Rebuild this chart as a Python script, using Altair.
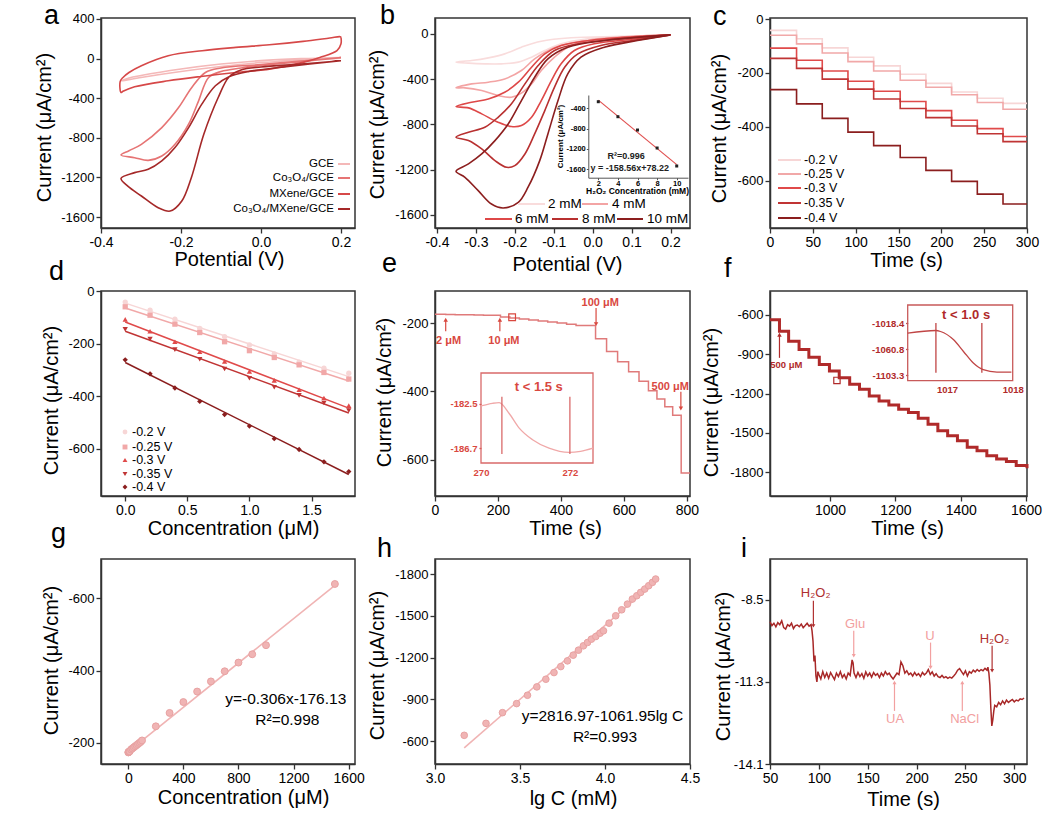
import altair as alt
import pandas as pd

FONT = "Liberation Sans, DejaVu Sans"
INK = "#333333"
CUR = "Current (μA/cm²)"

# ---------------- a: CV curves of the four electrodes ----------------
a_labels = ["GCE", "Co₃O₄/GCE", "MXene/GCE", "Co₃O₄/MXene/GCE"]
a_colors = ["#f4b8b8", "#e67474", "#d64848", "#a52828"]
a_gce_v = [0.2, 0.1, 0.0, -0.1, -0.2, -0.3, -0.35, -0.33, -0.3, -0.2, -0.1, 0.0, 0.1, 0.2]
a_gce_i = [5, -15, -40, -80, -130, -190, -225, -195, -170, -105, -55, -20, 0, 12]
a_co_v = [0.2, 0.1, 0.0, -0.05, -0.1, -0.131, -0.156, -0.181, -0.215, -0.248, -0.282, -0.316, -0.35,
          -0.33, -0.299, -0.248, -0.206, -0.173, -0.139, -0.1, 0.0, 0.1, 0.2]
a_co_i = [10, -30, -70, -95, -130, -190, -426, -662, -865, -983, -1027, -1000, -973,
          -930, -865, -696, -494, -291, -140, -95, -60, -25, 10]
a_mx_v = [0.2, 0.2, 0.19, 0.147, 0.105, 0.021, -0.063, -0.15, -0.232, -0.316, -0.345, -0.35,
          -0.352, -0.345, -0.33, -0.299, -0.232, -0.147, -0.063, 0.021, 0.105, 0.172, 0.198, 0.2]
a_mx_i = [215, 150, 80, 12, -38, -106, -140, -180, -224, -285, -330, -342,
          -230, -190, -140, -72, 29, 80, 113, 140, 174, 208, 221, 215]
a_comx_v = [0.2, 0.1, 0.0, -0.05, -0.08, -0.107, -0.143, -0.174, -0.198, -0.227, -0.257, -0.299, -0.333, -0.35,
            -0.316, -0.282, -0.248, -0.215, -0.181, -0.148, -0.114, -0.08, -0.03, 0.063, 0.2]
a_comx_i = [-21, -55, -85, -115, -185, -393, -764, -1200, -1438, -1539, -1505, -1387, -1287, -1209,
            -1151, -1118, -1033, -898, -696, -460, -274, -183, -130, -82, -21]

# ---------------- b: CV at different H2O2 levels ----------------
b_labels = ["2 mM", "4 mM", "6 mM", "8 mM", "10 mM"]
b_colors = ["#f9dcdc", "#f3a4a4", "#de4848", "#b83030", "#8c1e1e"]
b_2_v = [0.2, 0.072, -0.013, -0.081, -0.123, -0.157, -0.191, -0.234, -0.277, -0.319, -0.351,
         -0.311, -0.268, -0.226, -0.183, -0.132, -0.055, 0.072, 0.2]
b_2_i = [-9, -24, -44, -88, -147, -206, -250, -265, -265, -259, -250,
         -236, -212, -177, -118, -65, -35, -22, -9]
b_4_v = [0.2, 0.072, -0.013, -0.064, -0.098, -0.132, -0.157, -0.183, -0.209, -0.243, -0.285, -0.328, -0.351,
         -0.311, -0.268, -0.226, -0.183, -0.149, -0.106, -0.047, 0.072, 0.2]
b_4_i = [-9, -29, -59, -118, -206, -324, -442, -524, -560, -545, -501, -477, -477,
         -442, -427, -398, -324, -221, -133, -74, -29, -9]
b_6_v = [0.2, 0.115, 0.004, -0.047, -0.081, -0.106, -0.132, -0.157, -0.183, -0.209, -0.243, -0.285, -0.319, -0.351,
         -0.311, -0.268, -0.226, -0.191, -0.157, -0.123, -0.081, 0.004, 0.2]
b_6_i = [-9, -44, -88, -147, -265, -413, -589, -737, -810, -819, -781, -707, -654, -642,
         -604, -575, -516, -427, -295, -177, -103, -53, -9]
b_8_v = [0.2, 0.115, 0.021, -0.038, -0.072, -0.098, -0.123, -0.149, -0.174, -0.2, -0.221, -0.251, -0.285, -0.319, -0.351,
         -0.319, -0.277, -0.243, -0.209, -0.174, -0.14, -0.098, -0.03, 0.072, 0.2]
b_8_i = [-9, -53, -103, -177, -295, -471, -678, -884, -1061, -1164, -1179, -1120, -1017, -943, -913,
         -869, -825, -737, -619, -442, -280, -147, -83, -44, -9]
b_10_v = [0.2, 0.115, 0.03, -0.03, -0.064, -0.089, -0.115, -0.136, -0.166, -0.191, -0.23, -0.26, -0.294, -0.328, -0.351,
          -0.319, -0.285, -0.251, -0.217, -0.183, -0.149, -0.115, -0.064, 0.03, 0.2]
b_10_i = [-9, -59, -118, -206, -354, -589, -884, -1120, -1355, -1488, -1538, -1503, -1385, -1267, -1214,
          -1149, -1061, -943, -796, -589, -383, -221, -118, -59, -9]
# inset of b: peak current vs concentration
bi_conc = [2, 4, 6, 8, 10]
bi_cur = [-270, -565, -827, -1181, -1535]
bi_slope, bi_icpt = -158.56, 78.22

# ---------------- c / d: amperometric steps at five potentials ----------------
cd_labels = ["-0.2 V", "-0.25 V", "-0.3 V", "-0.35 V", "-0.4 V"]
cd_colors = ["#f7d6d6", "#f1a8a8", "#e04a4a", "#c03434", "#8b1e1e"]
cd_shapes = ["circle", "square", "triangle-up", "triangle-down", "diamond"]
d_conc = [0.0, 0.2, 0.4, 0.6, 0.8, 1.0, 1.2, 1.4, 1.6, 1.8]
d_m020 = [-42, -73, -107, -142, -174, -205, -239, -271, -294, -313]
d_m025 = [-60, -92, -126, -158, -193, -227, -253, -281, -310, -335]
d_m030 = [-108, -153, -193, -231, -268, -306, -340, -376, -407, -436]
d_m035 = [-146, -183, -223, -260, -297, -332, -366, -397, -426, -455]
d_m040 = [-262, -315, -369, -420, -470, -514, -562, -603, -650, -687]
c_step_t = [0, 31, 61, 91, 121, 152, 182, 212, 242, 272]
c_end_t = 300

# ---------------- e / g: low-concentration steps and calibration ----------------
g_conc = [0, 2, 4, 6, 8, 10, 20, 30, 40, 50, 60, 70, 80, 90, 100,
          200, 300, 400, 500, 600, 700, 800, 900, 1000, 1500]
g_cur = [-174, -174.6, -175.2, -175.8, -176.4, -177, -182, -185, -188, -191, -194, -197, -200, -203, -207,
         -246, -283, -313, -342, -370, -398, -422, -445, -470, -639]
e_step_t = [0, 34, 64, 94, 124, 154, 208, 238, 268, 298, 328, 358, 388, 418, 448,
            510, 545, 580, 615, 648, 678, 705, 730, 755, 782]
e_end_t = 810
g_slope, g_icpt = -0.306, -176.13
# inset of e: response time
ei_t = [270.0, 270.26, 270.41, 270.63, 270.86, 271.16, 271.53, 271.98, 272.24, 272.52]
ei_i = [-182.7, -182.46, -182.4, -183.4, -184.8, -185.9, -186.7, -187.1, -187.0, -186.7]
ei_marks = [270.47, 272.0]

# ---------------- f / h: high-concentration steps and log calibration ----------------
f_t = [816, 845, 873, 905, 935, 967, 998, 1028, 1060, 1090, 1120, 1150, 1180, 1210, 1240,
       1270, 1300, 1330, 1360, 1390, 1420, 1450, 1480, 1510, 1540, 1570, 1603]
f_i = [-638, -726, -802, -865, -923, -979, -1029, -1080, -1130, -1168, -1219, -1257, -1287, -1320, -1345,
       -1388, -1434, -1484, -1522, -1560, -1610, -1636, -1674, -1700, -1719, -1750, -1770]
fi_t = [1016.4, 1016.83, 1016.9, 1017.1, 1017.25, 1017.4, 1017.55, 1017.76, 1017.98]
fi_i = [-1034.7, -1030.4, -1032.0, -1045.6, -1064.7, -1083.7, -1094.6, -1098.4, -1098.4]
fi_marks = [1016.83, 1017.53]
h_lgc = [3.172, 3.30, 3.397, 3.48, 3.544, 3.599, 3.652, 3.70, 3.74, 3.779, 3.813, 3.844, 3.873, 3.897,
         3.92, 3.946, 3.971, 3.991, 4.024, 4.063, 4.098, 4.132, 4.161, 4.187, 4.21, 4.234, 4.257, 4.279, 4.298]
h_cur = [-641, -727, -804, -869, -929, -989, -1044, -1092, -1135, -1176, -1217, -1253, -1284, -1308,
         -1332, -1351, -1375, -1392, -1447, -1500, -1543, -1584, -1620, -1644, -1668, -1692, -1716, -1740, -1764]
h_icpt, h_slope = 2816.97, -1061.95

# ---------------- i: selectivity trace ----------------
i_t = [50, 52, 54, 56, 58, 60, 62, 64, 66, 68, 70, 72, 74, 76, 78, 80, 82, 84, 86, 88, 90, 92, 93, 94, 95, 96,
       97, 98, 99, 100, 102, 104, 106, 108, 110, 112, 114, 116, 118, 120, 122, 124, 126, 128, 130, 132, 134,
       135, 136, 138, 140, 142, 144, 146, 148, 150, 152, 154, 156, 158, 160, 162, 164, 166, 168, 170, 172, 174,
       176, 178, 180, 182, 184, 186, 188, 190, 192, 194, 196, 198, 200, 202, 204, 206, 208, 210, 212, 214, 216,
       218, 220, 222, 224, 226, 228, 230, 232, 234, 236, 238, 240, 242, 244, 246, 248, 250, 252, 254, 256, 258,
       260, 262, 264, 266, 268, 270, 272, 273, 274, 275, 276, 277, 278, 279, 280, 282, 284, 286, 288, 290, 292,
       294, 296, 298, 300, 302, 304, 306, 308, 310]
i_cur = [-9.25, -9.38, -9.30, -9.42, -9.28, -9.35, -9.22, -9.45, -9.50, -9.35, -9.40, -9.30, -9.48, -9.38, -9.36,
         -9.42, -9.33, -9.45, -9.38, -9.30, -9.40, -9.35, -9.55, -9.90, -10.60, -10.40, -11.10, -11.30, -10.95,
         -11.05, -11.20, -10.95, -11.15, -11.00, -11.18, -10.98, -11.10, -11.22, -11.00, -11.12, -10.95, -11.15,
         -11.05, -11.20, -11.00, -11.08, -10.55, -10.65, -11.00, -11.15, -10.98, -11.12, -11.02, -11.18, -10.96,
         -11.10, -11.00, -11.14, -10.98, -11.08, -11.02, -11.15, -11.00, -11.10, -10.95, -11.05, -11.00, -11.12,
         -11.20, -11.10, -11.00, -11.05, -10.62, -10.75, -11.00, -10.92, -11.05, -11.00, -11.10, -10.98, -11.08,
         -11.02, -11.12, -10.98, -11.06, -11.00, -10.88, -11.05, -10.96, -11.10, -11.02, -11.12, -11.15, -11.08,
         -11.16, -11.12, -11.18, -11.14, -11.17, -11.10, -11.02, -10.90, -10.85, -10.95, -11.05, -10.92, -11.10,
         -10.95, -11.00, -10.90, -10.96, -10.88, -10.94, -10.88, -10.92, -10.84, -10.90, -10.80, -11.00, -11.40,
         -12.20, -12.80, -12.60, -12.30, -12.10, -12.15, -12.00, -12.08, -11.95, -12.05, -11.92, -12.00, -11.95,
         -11.90, -11.98, -11.92, -11.95, -11.88, -11.90, -11.85]
i_note_txt = ["H₂O₂", "Glu", "U", "UA", "NaCl", "H₂O₂"]
i_note_t = [96.7, 137, 213.6, 178, 249.2, 279.7]
i_note_y = [-8.27, -9.33, -9.73, -12.57, -12.57, -9.84]
i_arrow_t = [94.4, 135.7, 214.3, 177.4, 246.8, 277.3]
i_arrow_from = [-8.53, -9.56, -9.96, -12.29, -12.29, -10.07]
i_arrow_tip = [-9.39, -10.41, -10.81, -11.32, -11.32, -10.92]
i_note_col = ["#b03030", "#f2a0a0", "#f2a0a0", "#f2a0a0", "#f2a0a0", "#b03030"]

W1, W2, W3 = 254, 255, 257
H1, H2, H3 = 210, 205, 205
XLAB, YLAB = 14, 13


def curve_table(names, colors, curves, shapes=None):
    rows = []
    for j, (name, col, (xs, ys)) in enumerate(zip(names, colors, curves)):
        for k, (x, y) in enumerate(zip(xs, ys)):
            row = {"s": name, "col": col, "k": k, "x": x, "y": y}
            if shapes:
                row["shp"] = shapes[j]
            rows.append(row)
    return pd.DataFrame(rows)


def lin(domain, **kw):
    return alt.Scale(domain=domain, nice=False, zero=False, **kw)


def xaxis(values, title, fmt, tx, ty):
    return alt.Axis(values=values, title=title, format=fmt, titleX=tx, titleY=ty, labelFontSize=XLAB,
                    titleBaseline="top", titleAlign="center")


def yaxis(values, title, fmt, tx, ty):
    return alt.Axis(values=values, title=title, format=fmt, titleX=tx, titleY=ty, labelFontSize=YLAB,
                    titleAngle=-90, titleBaseline="bottom", titleAlign="center")


def one(**cols):
    return pd.DataFrame({k: [v] for k, v in cols.items()})


def letter(ch, x, y):
    return alt.Chart(one(t=ch)).mark_text(fontSize=27, align="left", baseline="alphabetic",
                                          color="black").encode(x=alt.value(x), y=alt.value(y), text="t:N")


def line_key(labels, colors, spans, text_x, ys, align, size):
    layers = []
    for lab, col, (x1, x2), tx, y in zip(labels, colors, spans, text_x, ys):
        d = one(t=lab)
        layers.append(alt.Chart(d).mark_rule(color=col, strokeWidth=2).encode(
            x=alt.value(x1), x2=alt.value(x2), y=alt.value(y)))
        layers.append(alt.Chart(d).mark_text(align=align, baseline="middle", fontSize=size, color="black").encode(
            x=alt.value(tx), y=alt.value(y), text="t:N"))
    return layers


def arrow_table(ts, y_from, y_tip, colors):
    return pd.DataFrame({"x": ts, "y0": y_from, "y1": y_tip, "c": colors,
                         "shp": ["triangle-up" if b > a else "triangle-down" for a, b in zip(y_from, y_tip)]})


def arrows(d, size=20):
    shaft = alt.Chart(d).mark_rule(strokeWidth=1.2).encode(
        x="x:Q", y="y0:Q", y2="y1:Q", color=alt.Color("c:N", scale=None))
    head = alt.Chart(d).mark_point(filled=True, size=size, opacity=1).encode(
        x="x:Q", y="y1:Q", color=alt.Color("c:N", scale=None), shape=alt.Shape("shp:N", scale=None))
    return [shaft, head]


# ====================== panel a ======================
a_df = curve_table(a_labels, a_colors,
                   [(a_gce_v, a_gce_i), (a_co_v, a_co_i), (a_mx_v, a_mx_i), (a_comx_v, a_comx_i)])
a_lines = alt.Chart(a_df).mark_line(strokeWidth=1.6, interpolate="catmull-rom").encode(
    x=alt.X("x:Q", scale=lin([-0.4, 0.235]), axis=xaxis([-0.4, -0.2, 0.0, 0.2], "Potential (V)", ".1f", 128, 21)),
    y=alt.Y("y:Q", scale=lin([-1710, 410]),
            axis=yaxis([400, 0, -400, -800, -1200, -1600], CUR, "d", -47, 109)),
    color=alt.Color("col:N", scale=None), detail="s:N", order="k:Q")
a_key = line_key(a_labels, a_colors, [(237, 249)] * 4, [233] * 4, [146, 160, 176, 191], "right", 11.5)
anchor = alt.Chart(one(k=0)).mark_rule(opacity=0).encode(x=alt.value(-100), x2=alt.value(-99), y=alt.value(-17))
panel_a = alt.layer(a_lines, *a_key, letter("a", -57, 6), anchor).properties(width=W1, height=H1)

# ====================== panel b ======================
b_df = curve_table(b_labels, b_colors,
                   [(b_2_v, b_2_i), (b_4_v, b_4_i), (b_6_v, b_6_i), (b_8_v, b_8_i), (b_10_v, b_10_i)])
b_lines = alt.Chart(b_df).mark_line(strokeWidth=1.6, interpolate="catmull-rom").encode(
    x=alt.X("x:Q", scale=lin([-0.405, 0.25]),
            axis=xaxis([-0.4, -0.3, -0.2, -0.1, 0.0, 0.1, 0.2], "Potential (V)", ".1f", 132, 26.5)),
    y=alt.Y("y:Q", scale=lin([-1715, 140]), axis=yaxis([0, -400, -800, -1200, -1600], CUR, "d", -48, 106)),
    color=alt.Color("col:N", scale=None), detail="s:N", order="k:Q")
b_key = line_key(b_labels, b_colors, [(83, 110), (147, 173), (50, 77), (117, 143), (182, 208)],
                 [113, 177, 80, 147, 212], [186, 186, 201, 201, 201], "left", 13.5)
b_main = alt.layer(b_lines, *b_key, letter("b", -55, 6))

bi_x = alt.Scale(domain=[0.98, 11.15], range=[153.3, 253], nice=False, zero=False)
bi_y = alt.Scale(domain=[-1765, -138], range=[159.7, 77], nice=False, zero=False)
bi_xaxis = alt.Axis(orient="bottom", offset=-50.3, values=bi_conc, format="d", title="H₂O₂ Concentration (mM)",
                    titleFontSize=8.5, titleFontWeight="bold", titleX=202, titleY=9, titleBaseline="top",
                    labelFontSize=7.5, labelFontWeight="bold", labelPadding=0, tickSize=2, tickWidth=1,
                    domainWidth=1, domainColor="#555", tickColor="#555")
bi_yaxis = alt.Axis(orient="left", offset=-153.3, values=[-400, -800, -1200, -1600], format="d", title=CUR,
                    titleFontSize=8, titleFontWeight="bold", titleX=-24, titleY=118, titleAngle=-90,
                    titleBaseline="bottom", labelFontSize=7.5, labelFontWeight="bold", labelPadding=1, tickSize=2,
                    tickWidth=1, domainWidth=1, domainColor="#555", tickColor="#555")
bi_fit = pd.DataFrame({"x": [bi_conc[0], bi_conc[-1]],
                       "y": [bi_slope * bi_conc[0] + bi_icpt, bi_slope * bi_conc[-1] + bi_icpt]})
b_inset = alt.layer(
    alt.Chart(bi_fit).mark_line(color="#e05050", strokeWidth=1.2).encode(
        x=alt.X("x:Q", scale=bi_x, axis=bi_xaxis), y=alt.Y("y:Q", scale=bi_y, axis=bi_yaxis)),
    alt.Chart(pd.DataFrame({"x": bi_conc, "y": bi_cur})).mark_square(color="#222", size=9, opacity=1).encode(
        x=alt.X("x:Q", scale=bi_x), y=alt.Y("y:Q", scale=bi_y)),
    alt.Chart(pd.DataFrame({"x": [4.83, 5.2], "y": [-1338, -1584],
                            "t": ["R²=0.996", "y =  -158.56x+78.22"]})).mark_text(
        fontSize=9, fontWeight="bold", color="#222").encode(
        x=alt.X("x:Q", scale=bi_x), y=alt.Y("y:Q", scale=bi_y), text="t:N"),
)
panel_b = alt.layer(b_main, b_inset).resolve_scale(x="independent", y="independent").properties(width=W2, height=H1)

# ====================== panel c ======================
d_series = [d_m020, d_m025, d_m030, d_m035, d_m040]
c_df = curve_table(cd_labels, cd_colors, [(c_step_t + [c_end_t], s + [s[-1]]) for s in d_series])
c_lines = alt.Chart(c_df).mark_line(strokeWidth=1.6, interpolate="step-after").encode(
    x=alt.X("x:Q", scale=lin([0, 300]), axis=xaxis([0, 50, 100, 150, 200, 250, 300], "Time (s)", "d", 136, 22)),
    y=alt.Y("y:Q", scale=lin([-776, 4]), axis=yaxis([0, -200, -400, -600], CUR, "d", -41, 110)),
    color=alt.Color("col:N", scale=None), detail="s:N", order="k:Q")
c_key = line_key(cd_labels, cd_colors, [(8, 31)] * 5, [34] * 5, [142, 156, 170, 185, 200], "left", 12.5)
panel_c = alt.layer(c_lines, *c_key, letter("c", -57, 7)).properties(width=W3, height=H1)

# ====================== panel d ======================
d_df = curve_table(cd_labels, cd_colors, [(d_conc, s) for s in d_series], cd_shapes)
d_enc_x = alt.X("x:Q", scale=lin([-0.195, 1.85]),
                axis=xaxis([0.0, 0.5, 1.0, 1.5], "Concentration (μM)", ".1f", 132, 22))
d_enc_y = alt.Y("y:Q", scale=lin([-780, 0]), axis=yaxis([0, -200, -400, -600], CUR, "d", -40, 109))
d_fit = alt.Chart(d_df).transform_regression("x", "y", groupby=["s", "col"]).mark_line(strokeWidth=1.5).encode(
    x=d_enc_x, y=d_enc_y, color=alt.Color("col:N", scale=None), detail="s:N")
d_pts = alt.Chart(d_df).mark_point(filled=True, size=28, opacity=1).encode(
    x="x:Q", y="y:Q", color=alt.Color("col:N", scale=None), shape=alt.Shape("shp:N", scale=None))
d_key = []
for lab, col, shp, y in zip(cd_labels, cd_colors, cd_shapes, [141, 156, 169, 183, 196]):
    d_key.append(alt.Chart(one(t=lab)).mark_point(filled=True, size=24, opacity=1, color=col, shape=shp).encode(
        x=alt.value(24), y=alt.value(y)))
    d_key.append(alt.Chart(one(t=lab)).mark_text(align="left", baseline="middle", fontSize=12.5, color="black").encode(
        x=alt.value(31), y=alt.value(y), text="t:N"))
panel_d = alt.layer(d_fit, d_pts, *d_key, letter("d", -52, -11)).properties(width=W1, height=H2)

# ====================== panel e ======================
E_RED = "#e07a7a"
E_NOTE = "#d9483f"
e_df = pd.DataFrame({"x": e_step_t + [e_end_t], "y": g_cur + [g_cur[-1]]})
e_line = alt.Chart(e_df).mark_line(strokeWidth=1.5, color=E_RED, interpolate="step-after").encode(
    x=alt.X("x:Q", scale=lin([0, 810]), axis=xaxis([0, 200, 400, 600, 800], "Time (s)", "d", 130, 22)),
    y=alt.Y("y:Q", scale=lin([-706, -106]), axis=yaxis([-200, -400, -600], CUR, "d", -41, 101)))
e_notes = alt.Chart(pd.DataFrame({"x": [43, 219, 525, 747], "y": [-251, -251, -141, -386],
                                  "t": ["2 μM", "10 μM", "100 μM", "500 μM"]})).mark_text(
    fontSize=11, fontWeight="bold", color=E_NOTE).encode(x="x:Q", y="y:Q", text="t:N")
e_box = alt.Chart(one(x=245, y=-183)).mark_point(shape="square", filled=False, color=E_NOTE, size=45,
                                                  strokeWidth=1.2, opacity=1).encode(x="x:Q", y="y:Q")
e_arr = arrow_table([34, 206, 511.6, 781], [-224, -224, -156, -401], [-190, -190, -203, -450], [E_NOTE] * 4)
e_main = alt.layer(e_line, *arrows(e_arr), e_notes, e_box, letter("e", -53, -19))

ei_x = alt.Scale(domain=[270, 272.52], range=[46, 158], nice=False, zero=False)
ei_y = alt.Scale(domain=[-188.1, -179.6], range=[172, 82], nice=False, zero=False)
ei_xaxis = alt.Axis(orient="bottom", offset=-33, values=[270, 272], format="d", title=None, domain=False,
                    ticks=False, labelFontSize=9.5, labelFontWeight="bold", labelColor=E_NOTE, labelPadding=4)
ei_yaxis = alt.Axis(orient="left", offset=-46, values=[-182.5, -186.7], format=".1f", title=None, domain=False,
                    tickSize=2, tickColor=E_NOTE, labelFontSize=9.5, labelFontWeight="bold", labelColor=E_NOTE,
                    labelPadding=2)
e_inset = alt.layer(
    alt.Chart(one(x0=270, x1=272.52, y0=-188.1, y1=-179.6)).mark_rect(
        fillOpacity=0, stroke="#d96a6a", strokeWidth=1.3).encode(
        x=alt.X("x0:Q", scale=ei_x, axis=ei_xaxis), x2="x1:Q",
        y=alt.Y("y0:Q", scale=ei_y, axis=ei_yaxis), y2="y1:Q"),
    alt.Chart(pd.DataFrame({"x": ei_t, "y": ei_i})).mark_line(color="#f0a8a8", strokeWidth=1.3,
                                                              interpolate="monotone").encode(
        x=alt.X("x:Q", scale=ei_x), y=alt.Y("y:Q", scale=ei_y)),
    alt.Chart(pd.DataFrame({"x": ei_marks, "y0": [-181.84] * 2, "y1": [-187.24] * 2})).mark_rule(
        color="#d96a6a", strokeWidth=1.3).encode(x=alt.X("x:Q", scale=ei_x), y=alt.Y("y0:Q", scale=ei_y), y2="y1:Q"),
    alt.Chart(one(x=271.3, y=-180.9, t="t < 1.5 s")).mark_text(fontSize=13, fontWeight="bold", color=E_NOTE).encode(
        x=alt.X("x:Q", scale=ei_x), y=alt.Y("y:Q", scale=ei_y), text="t:N"),
)
panel_e = alt.layer(e_main, e_inset).resolve_scale(x="independent", y="independent").properties(width=W2, height=H2)

# ====================== panel f ======================
F_RED = "#b02a2a"
f_df = pd.DataFrame({"x": f_t, "y": f_i})
f_line = alt.Chart(f_df).mark_line(strokeWidth=3, color=F_RED, interpolate="step-after").encode(
    x=alt.X("x:Q", scale=lin([816, 1603]), axis=xaxis([1000, 1200, 1400, 1600], "Time (s)", "d", 137, 22)),
    y=alt.Y("y:Q", scale=lin([-1982, -418]),
            axis=yaxis([-600, -900, -1200, -1500, -1800], CUR, "d", -49, 111)))
f_note = alt.Chart(one(x=866, y=-984, t="500 μM")).mark_text(fontSize=9.5, fontWeight="bold", color=F_RED).encode(
    x="x:Q", y="y:Q", text="t:N")
f_box = alt.Chart(one(x=1021, y=-1100)).mark_point(shape="square", filled=False, color=F_RED, size=40,
                                                    strokeWidth=1.2, opacity=1).encode(x="x:Q", y="y:Q")
f_arr = arrow_table([845], [-928], [-752], [F_RED])
f_main = alt.layer(f_line, *arrows(f_arr), f_note, f_box, letter("f", -46, -14))

fi_x = alt.Scale(domain=[1016.4, 1018.0], range=[137.7, 242.7], nice=False, zero=False)
fi_y = alt.Scale(domain=[-1112.6, -988.6], range=[89.7, 14], nice=False, zero=False)
fi_xaxis = alt.Axis(orient="bottom", offset=-115.3, values=[1017, 1018], format="d", title=None, domain=False,
                    ticks=False, labelFontSize=9.5, labelFontWeight="bold", labelColor=F_RED, labelPadding=4)
fi_yaxis = alt.Axis(orient="left", offset=-137.7, values=[-1018.4, -1060.8, -1103.3], format=".1f", title=None,
                    domain=False, tickSize=2, tickColor=F_RED, labelFontSize=9.5, labelFontWeight="bold",
                    labelColor=F_RED, labelPadding=2)
f_inset = alt.layer(
    alt.Chart(one(x0=1016.4, x1=1018.0, y0=-1112.6, y1=-988.6)).mark_rect(
        fillOpacity=0, stroke="#c85a5a", strokeWidth=1.3).encode(
        x=alt.X("x0:Q", scale=fi_x, axis=fi_xaxis), x2="x1:Q",
        y=alt.Y("y0:Q", scale=fi_y, axis=fi_yaxis), y2="y1:Q"),
    alt.Chart(pd.DataFrame({"x": fi_t, "y": fi_i})).mark_line(color="#c04545", strokeWidth=1.3,
                                                              interpolate="monotone").encode(
        x=alt.X("x:Q", scale=fi_x), y=alt.Y("y:Q", scale=fi_y)),
    alt.Chart(pd.DataFrame({"x": fi_marks, "y0": [-1017.9] * 2, "y1": [-1099.4] * 2})).mark_rule(
        color="#c04545", strokeWidth=1.3).encode(x=alt.X("x:Q", scale=fi_x), y=alt.Y("y0:Q", scale=fi_y), y2="y1:Q"),
    alt.Chart(one(x=1017.29, y=-1004.9, t="t < 1.0 s")).mark_text(fontSize=13, fontWeight="bold", color=F_RED).encode(
        x=alt.X("x:Q", scale=fi_x), y=alt.Y("y:Q", scale=fi_y), text="t:N"),
)
panel_f = alt.layer(f_main, f_inset).resolve_scale(x="independent", y="independent").properties(width=W3, height=H2)

# ====================== panel g ======================
PINK = "#f0b4b4"
g_fit = pd.DataFrame({"x": [0, 1500], "y": [g_icpt, g_slope * 1500 + g_icpt]})
g_line = alt.Chart(g_fit).mark_line(color=PINK, strokeWidth=1.6).encode(
    x=alt.X("x:Q", scale=lin([-198, 1646]),
            axis=xaxis([0, 400, 800, 1200, 1600], "Concentration (μM)", "d", 142, 23)),
    y=alt.Y("y:Q", scale=lin([-708, -142], reverse=True), axis=yaxis([-600, -400, -200], CUR, "d", -40, 101)))
g_pts = alt.Chart(pd.DataFrame({"x": g_conc, "y": g_cur})).mark_circle(
    color=PINK, size=48, opacity=1, stroke="#e8a2a2", strokeWidth=1).encode(x="x:Q", y="y:Q")
g_txt = alt.Chart(pd.DataFrame({"x": [1143, 1155], "y": [-321, -262.5],
                                "t": ["y=-0.306x-176.13", "R²=0.998"]})).mark_text(
    fontSize=15.5, color="black").encode(x="x:Q", y="y:Q", text="t:N")
panel_g = alt.layer(g_line, g_pts, g_txt, letter("g", -50, -17)).properties(width=W1, height=H3)

# ====================== panel h ======================
h_fit = pd.DataFrame({"x": [h_lgc[0], h_lgc[-1]],
                      "y": [h_icpt + h_slope * h_lgc[0], h_icpt + h_slope * h_lgc[-1]]})
h_line = alt.Chart(h_fit).mark_line(color=PINK, strokeWidth=1.6).encode(
    x=alt.X("x:Q", scale=lin([3.0, 4.5]), axis=xaxis([3.0, 3.5, 4.0, 4.5], "lg C (mM)", ".1f", 138, 24)),
    y=alt.Y("y:Q", scale=lin([-1908, -435], reverse=True),
            axis=yaxis([-1800, -1500, -1200, -900, -600], CUR, "d", -48, 106)))
h_pts = alt.Chart(pd.DataFrame({"x": h_lgc, "y": h_cur})).mark_circle(
    color=PINK, size=44, opacity=1, stroke="#e8a2a2", strokeWidth=1).encode(x="x:Q", y="y:Q")
h_txt = alt.Chart(pd.DataFrame({"x": [3.985, 4.0], "y": [-780, -631],
                                "t": ["y=2816.97-1061.95lg C", "R²=0.993"]})).mark_text(
    fontSize=15.5, color="black").encode(x="x:Q", y="y:Q", text="t:N")
panel_h = alt.layer(h_line, h_pts, h_txt, letter("h", -58, -2)).properties(width=W2, height=H3)

# ====================== panel i ======================
i_line = alt.Chart(pd.DataFrame({"x": i_t, "y": i_cur})).mark_line(color="#a82828", strokeWidth=1.5).encode(
    x=alt.X("x:Q", scale=lin([50, 313]), axis=xaxis([50, 100, 150, 200, 250, 300], "Time (s)", "d", 133, 25.5)),
    y=alt.Y("y:Q", scale=lin([-14.1, -7.11]), axis=yaxis([-8.5, -11.3, -14.1], CUR, ".1f", -37, 107)))
i_arr = arrow_table(i_arrow_t, i_arrow_from, i_arrow_tip, i_note_col)
i_txt = alt.Chart(pd.DataFrame({"x": i_note_t, "y": i_note_y, "t": i_note_txt, "c": i_note_col})).mark_text(
    fontSize=13).encode(x="x:Q", y="y:Q", text="t:N", color=alt.Color("c:N", scale=None))
panel_i = alt.layer(i_line, *arrows(i_arr, size=16), i_txt, letter("i", -29, -2)).properties(width=W3, height=H3)

chart = alt.concat(
    panel_a, panel_b, panel_c, panel_d, panel_e, panel_f, panel_g, panel_h, panel_i,
    columns=3, spacing={"row": 63, "column": 80}, bounds="flush",
).properties(padding=0).configure(
    font=FONT,
    locale={"number": {"decimal": ".", "thousands": ",", "grouping": [3], "currency": ["", ""], "minus": "-"}},
).configure_view(stroke=INK, strokeWidth=1.5).configure_axis(
    labelFont=FONT, titleFont=FONT, labelFontSize=14, titleFontSize=20, titleFontWeight="normal",
    labelColor="black", titleColor="black", domainColor=INK, domainWidth=1.5, tickColor=INK, tickWidth=1.3,
    tickSize=5, grid=False, labelFlush=False, labelOverlap=False, labelPadding=2,
).configure_text(font=FONT)

chart.save("out.html", embed_options={"renderer": "svg", "actions": False})
